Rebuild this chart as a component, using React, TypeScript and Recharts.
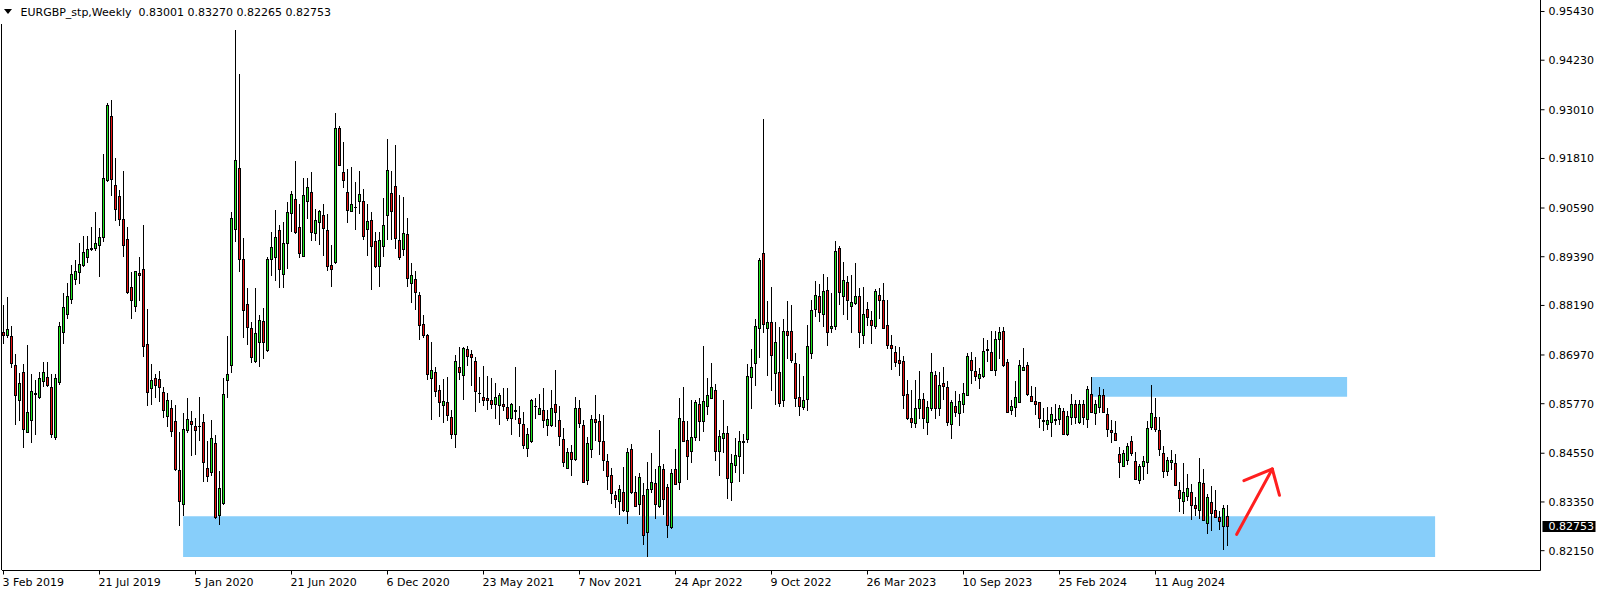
import { Bar, ComposedChart, ReferenceArea, ReferenceLine, XAxis, YAxis } from 'recharts';

// weekly EURGBP candles (first bar = week of 3 Feb 2019)
const opens = [
  0.8752, 0.8744, 0.8742, 0.867, 0.8585, 0.8655, 0.8507, 0.8536, 0.86, 0.8592,
  0.8632, 0.8642, 0.8618, 0.8493, 0.863, 0.8753, 0.8797, 0.8834, 0.8883, 0.8901,
  0.8918, 0.8938, 0.8956, 0.896, 0.8967, 0.8987, 0.9126, 0.9284, 0.9114, 0.9087,
  0.903, 0.8981, 0.8863, 0.8817, 0.8897, 0.8907, 0.8722, 0.8615, 0.864, 0.8636,
  0.8604, 0.8545, 0.8566, 0.8532, 0.8413, 0.8328, 0.851, 0.8532, 0.8521, 0.8521,
  0.853, 0.8418, 0.8408, 0.848, 0.8302, 0.833, 0.8634, 0.8671, 0.9007, 0.9156,
  0.8931, 0.8822, 0.8763, 0.8681, 0.8728, 0.8779, 0.8708, 0.8931, 0.8938, 0.9003,
  0.8894, 0.8972, 0.9046, 0.9079, 0.9011, 0.8939, 0.9074, 0.9097, 0.8995, 0.9023,
  0.904, 0.9003, 0.8917, 0.8924, 0.9254, 0.9146, 0.9097, 0.9051, 0.9061, 0.9076,
  0.9075, 0.9007, 0.9027, 0.8977, 0.8915, 0.8963, 0.904, 0.9095, 0.9112, 0.898,
  0.8956, 0.8993, 0.8873, 0.8884, 0.8844, 0.8771, 0.8746, 0.864, 0.8655, 0.861,
  0.8572, 0.8579, 0.8544, 0.8501, 0.8666, 0.8647, 0.871, 0.8697, 0.868, 0.8602,
  0.8593, 0.859, 0.8586, 0.8575, 0.8572, 0.8574, 0.8568, 0.854, 0.856, 0.8541,
  0.8527, 0.8466, 0.8485, 0.857, 0.8551, 0.8561, 0.8523, 0.8523, 0.8574, 0.8535,
  0.849, 0.8417, 0.8458, 0.8439, 0.8566, 0.8524, 0.8388, 0.8464, 0.8538, 0.8532,
  0.8483, 0.8435, 0.8401, 0.8351, 0.8336, 0.8359, 0.8311, 0.8464, 0.8359, 0.8328,
  0.8351, 0.8259, 0.8365, 0.8381, 0.8325, 0.8415, 0.8371, 0.8272, 0.8415, 0.8383,
  0.8534, 0.8487, 0.846, 0.8494, 0.8576, 0.8532, 0.857, 0.8591, 0.8609, 0.846,
  0.8491, 0.8504, 0.8383, 0.8425, 0.8447, 0.8481, 0.8489, 0.8642, 0.8677, 0.8761,
  0.8946, 0.8763, 0.8776, 0.8651, 0.8654, 0.8585, 0.8756, 0.8754, 0.8676, 0.8593,
  0.8568, 0.8587, 0.8701, 0.881, 0.884, 0.8797, 0.8857, 0.8761, 0.8766, 0.8959,
  0.8842, 0.8876, 0.8817, 0.8823, 0.8842, 0.8744, 0.8808, 0.8783, 0.8766, 0.8844,
  0.883, 0.877, 0.8721, 0.8704, 0.8683, 0.868, 0.86, 0.8541, 0.8528, 0.8566,
  0.8587, 0.8531, 0.8566, 0.8647, 0.8564, 0.8627, 0.8617, 0.8525, 0.857, 0.8553,
  0.8574, 0.8596, 0.8683, 0.8657, 0.864, 0.8644, 0.871, 0.8704, 0.866, 0.8736,
  0.8755, 0.8678, 0.8561, 0.8568, 0.8581, 0.8659, 0.8671, 0.8595, 0.8583, 0.8579,
  0.8536, 0.8527, 0.8531, 0.8537, 0.8538, 0.8559, 0.85, 0.8542, 0.8574, 0.8531,
  0.8576, 0.8538, 0.86, 0.8553, 0.8568, 0.8598, 0.8551, 0.8511, 0.8504, 0.8452,
  0.8423, 0.8438, 0.8485, 0.8434, 0.8387, 0.8422, 0.8432, 0.8519, 0.8544, 0.8511,
  0.8455, 0.8411, 0.8432, 0.843, 0.8364, 0.8337, 0.8348, 0.8358, 0.8327, 0.8315,
  0.8381, 0.8281, 0.8334, 0.8314, 0.8296, 0.8275, 0.83001,
];

const highs = [
  0.882, 0.8841, 0.8768, 0.87, 0.8653, 0.8676, 0.8722, 0.8649, 0.8636, 0.8655,
  0.868, 0.868, 0.8649, 0.8649, 0.8778, 0.885, 0.8875, 0.8918, 0.8932, 0.8973,
  0.8991, 0.8989, 0.9011, 0.905, 0.901, 0.9191, 0.9317, 0.9324, 0.9183, 0.9103,
  0.9149, 0.9013, 0.8902, 0.8905, 0.8938, 0.9018, 0.8811, 0.8676, 0.865, 0.8657,
  0.8619, 0.8603, 0.8585, 0.8574, 0.8507, 0.8555, 0.8591, 0.8558, 0.8542, 0.8593,
  0.8551, 0.8485, 0.8536, 0.8501, 0.8412, 0.864, 0.8744, 0.9048, 0.9498, 0.9388,
  0.8986, 0.8863, 0.8778, 0.8863, 0.8796, 0.8813, 0.8939, 0.8999, 0.9055, 0.9016,
  0.9024, 0.9074, 0.9101, 0.9176, 0.9068, 0.9133, 0.9133, 0.9147, 0.9057, 0.9055,
  0.9069, 0.9044, 0.8967, 0.9292, 0.9262, 0.9221, 0.9156, 0.916, 0.9122, 0.9149,
  0.9105, 0.9068, 0.9048, 0.9001, 0.9, 0.9084, 0.923, 0.915, 0.9215, 0.9092,
  0.9085, 0.9035, 0.8924, 0.8904, 0.8853, 0.8796, 0.8749, 0.8729, 0.8667, 0.8623,
  0.8638, 0.8644, 0.8562, 0.8697, 0.8717, 0.8717, 0.8718, 0.871, 0.8691, 0.8643,
  0.867, 0.8646, 0.864, 0.8629, 0.8604, 0.8615, 0.8616, 0.8579, 0.8667, 0.8572,
  0.8557, 0.8517, 0.8589, 0.8591, 0.8602, 0.8615, 0.8562, 0.861, 0.8659, 0.8572,
  0.8517, 0.8468, 0.8476, 0.8593, 0.8586, 0.8538, 0.8496, 0.8549, 0.8599, 0.8551,
  0.8549, 0.8453, 0.8419, 0.8361, 0.8377, 0.8421, 0.8468, 0.8477, 0.84, 0.8406,
  0.8381, 0.8433, 0.8456, 0.8416, 0.8513, 0.8428, 0.8379, 0.8415, 0.8466, 0.8592,
  0.8619, 0.8534, 0.8587, 0.8585, 0.8592, 0.872, 0.864, 0.8678, 0.8626, 0.8513,
  0.8585, 0.8523, 0.8453, 0.8493, 0.8511, 0.8502, 0.8676, 0.8711, 0.8785, 0.8936,
  0.9278, 0.8831, 0.8865, 0.8779, 0.8765, 0.8785, 0.8829, 0.8821, 0.8701, 0.8676,
  0.8646, 0.8772, 0.8833, 0.8878, 0.8872, 0.8897, 0.8888, 0.885, 0.8978, 0.8965,
  0.8926, 0.8891, 0.8895, 0.8924, 0.8863, 0.8865, 0.8827, 0.8806, 0.8859, 0.8863,
  0.8874, 0.8833, 0.8746, 0.8719, 0.8717, 0.8695, 0.8636, 0.861, 0.8636, 0.8657,
  0.8603, 0.8583, 0.8701, 0.8657, 0.8655, 0.8667, 0.8632, 0.8586, 0.8609, 0.86,
  0.8629, 0.8701, 0.8705, 0.8691, 0.8664, 0.874, 0.8734, 0.8755, 0.8755, 0.8765,
  0.8765, 0.8688, 0.8586, 0.8634, 0.8684, 0.8715, 0.868, 0.862, 0.8617, 0.8582,
  0.8566, 0.857, 0.8568, 0.8576, 0.8574, 0.8566, 0.8559, 0.86, 0.8586, 0.8586,
  0.8586, 0.862, 0.8643, 0.8586, 0.8617, 0.8613, 0.8566, 0.8538, 0.8535, 0.847,
  0.8463, 0.848, 0.8497, 0.8457, 0.8429, 0.8447, 0.8534, 0.8623, 0.8592, 0.8544,
  0.8474, 0.8445, 0.8462, 0.8453, 0.8385, 0.8432, 0.8404, 0.8379, 0.8348, 0.8444,
  0.8417, 0.8355, 0.8374, 0.8364, 0.8313, 0.8327, 0.8327,
];

const lows = [
  0.8723, 0.874, 0.8664, 0.8525, 0.8534, 0.8468, 0.8504, 0.8481, 0.8501, 0.8589,
  0.8617, 0.8619, 0.8493, 0.8487, 0.8623, 0.8723, 0.8786, 0.8822, 0.8869, 0.8871,
  0.8914, 0.8924, 0.8953, 0.8952, 0.8888, 0.8976, 0.9123, 0.9088, 0.9027, 0.9014,
  0.8938, 0.8848, 0.8785, 0.8802, 0.8831, 0.8693, 0.8572, 0.8575, 0.8592, 0.8582,
  0.8542, 0.8519, 0.8496, 0.8411, 0.8275, 0.83, 0.8504, 0.8449, 0.845, 0.8485,
  0.8385, 0.8385, 0.8398, 0.8293, 0.8279, 0.8328, 0.8592, 0.8653, 0.8976, 0.8902,
  0.8738, 0.8722, 0.8678, 0.8678, 0.8668, 0.8687, 0.8704, 0.8891, 0.8878, 0.8863,
  0.8861, 0.891, 0.8999, 0.8994, 0.8935, 0.8938, 0.9033, 0.8978, 0.8978, 0.8967,
  0.8942, 0.8905, 0.8864, 0.892, 0.9163, 0.9109, 0.9023, 0.9048, 0.9004, 0.9044,
  0.898, 0.8942, 0.8858, 0.8912, 0.8864, 0.8938, 0.898, 0.898, 0.8959, 0.8931,
  0.8942, 0.8864, 0.8825, 0.8808, 0.8735, 0.874, 0.8636, 0.8536, 0.8593, 0.8544,
  0.853, 0.8534, 0.849, 0.8467, 0.8636, 0.8587, 0.867, 0.862, 0.8557, 0.8579,
  0.8572, 0.8562, 0.8564, 0.854, 0.8525, 0.8559, 0.8534, 0.85, 0.8538, 0.8496,
  0.8466, 0.8446, 0.848, 0.854, 0.8548, 0.8517, 0.8498, 0.852, 0.852, 0.8472,
  0.8421, 0.8416, 0.84, 0.8436, 0.8517, 0.8381, 0.8378, 0.8443, 0.8485, 0.8451,
  0.8412, 0.8365, 0.8331, 0.8321, 0.8302, 0.831, 0.8281, 0.8355, 0.8323, 0.8303,
  0.8228, 0.82, 0.8358, 0.8294, 0.8319, 0.8304, 0.8247, 0.8268, 0.8377, 0.8365,
  0.8484, 0.8389, 0.843, 0.8485, 0.8484, 0.8508, 0.8548, 0.8589, 0.8436, 0.84,
  0.8455, 0.8343, 0.8338, 0.8406, 0.8385, 0.8405, 0.8481, 0.8564, 0.8621, 0.8689,
  0.8751, 0.8646, 0.8608, 0.8575, 0.857, 0.857, 0.8687, 0.8677, 0.857, 0.8547,
  0.8561, 0.8558, 0.8688, 0.8791, 0.8779, 0.8766, 0.8719, 0.8751, 0.8759, 0.882,
  0.8796, 0.8782, 0.8752, 0.8819, 0.8715, 0.8725, 0.8768, 0.8725, 0.8761, 0.8786,
  0.8762, 0.8711, 0.8659, 0.8667, 0.8646, 0.8565, 0.8536, 0.8518, 0.8517, 0.854,
  0.8515, 0.8501, 0.8558, 0.854, 0.8547, 0.8587, 0.8521, 0.8489, 0.8545, 0.8521,
  0.8555, 0.8595, 0.8626, 0.8633, 0.8612, 0.864, 0.868, 0.8659, 0.8646, 0.8687,
  0.8668, 0.8553, 0.8549, 0.8545, 0.8579, 0.8657, 0.8596, 0.8581, 0.8549, 0.8517,
  0.8511, 0.8513, 0.8496, 0.8525, 0.8525, 0.85, 0.8498, 0.8525, 0.8528, 0.8528,
  0.8525, 0.8517, 0.8553, 0.8524, 0.8553, 0.8553, 0.8496, 0.848, 0.8485, 0.8394,
  0.8421, 0.8426, 0.8449, 0.8389, 0.8379, 0.8388, 0.8404, 0.8513, 0.8508, 0.8449,
  0.8395, 0.84, 0.8413, 0.8375, 0.8311, 0.8306, 0.8338, 0.829, 0.83, 0.8293,
  0.8287, 0.8255, 0.8263, 0.8296, 0.8266, 0.8217, 0.82265,
];

const closes = [
  0.8745, 0.8759, 0.8677, 0.8598, 0.8627, 0.8513, 0.8555, 0.8606, 0.8603, 0.864,
  0.8653, 0.8621, 0.8501, 0.8638, 0.8766, 0.8813, 0.8841, 0.8895, 0.8902, 0.892,
  0.895, 0.8958, 0.896, 0.8971, 0.8986, 0.9131, 0.9312, 0.9128, 0.9056, 0.9031,
  0.8966, 0.8851, 0.8831, 0.8902, 0.8893, 0.8718, 0.8604, 0.8633, 0.8623, 0.8618,
  0.8561, 0.8584, 0.8508, 0.8414, 0.8336, 0.8514, 0.8538, 0.8525, 0.8511, 0.852,
  0.8432, 0.8398, 0.8491, 0.8296, 0.8368, 0.86, 0.865, 0.9034, 0.9176, 0.8933,
  0.8807, 0.8765, 0.8691, 0.8749, 0.8783, 0.8728, 0.8933, 0.8961, 0.8986, 0.8908,
  0.8972, 0.9048, 0.9092, 0.8999, 0.8948, 0.9089, 0.9109, 0.8999, 0.9027, 0.905,
  0.9009, 0.8915, 0.8908, 0.9254, 0.9164, 0.9126, 0.9054, 0.9068, 0.906, 0.9092,
  0.899, 0.9025, 0.8963, 0.8915, 0.898, 0.9017, 0.9152, 0.9051, 0.8983, 0.8936,
  0.8995, 0.8885, 0.8892, 0.8851, 0.8769, 0.8745, 0.8649, 0.866, 0.8608, 0.8581,
  0.8583, 0.8548, 0.8501, 0.8682, 0.8654, 0.8714, 0.8693, 0.8691, 0.8608, 0.8601,
  0.8585, 0.8585, 0.8575, 0.8593, 0.8596, 0.8569, 0.854, 0.8574, 0.8559, 0.8528,
  0.8474, 0.85, 0.8586, 0.8569, 0.8565, 0.8536, 0.8538, 0.8566, 0.8555, 0.8496,
  0.8432, 0.8456, 0.8439, 0.8566, 0.8528, 0.8382, 0.848, 0.8538, 0.8531, 0.8484,
  0.8436, 0.8398, 0.8355, 0.834, 0.8366, 0.8313, 0.8457, 0.8359, 0.8324, 0.8396,
  0.8252, 0.8366, 0.8383, 0.8328, 0.8422, 0.8341, 0.8277, 0.8405, 0.8378, 0.8541,
  0.8485, 0.8446, 0.8494, 0.8581, 0.8534, 0.8583, 0.8596, 0.8616, 0.846, 0.8497,
  0.8504, 0.8392, 0.843, 0.845, 0.8485, 0.8484, 0.8644, 0.8667, 0.8766, 0.8929,
  0.8772, 0.8776, 0.8695, 0.8727, 0.8578, 0.8754, 0.8745, 0.8684, 0.8589, 0.857,
  0.8586, 0.8719, 0.8807, 0.8844, 0.8802, 0.8853, 0.8753, 0.8766, 0.8953, 0.8851,
  0.888, 0.883, 0.8827, 0.884, 0.8752, 0.8796, 0.8789, 0.8769, 0.8854, 0.883,
  0.8763, 0.8721, 0.8714, 0.8678, 0.8676, 0.8598, 0.854, 0.8531, 0.8565, 0.8587,
  0.854, 0.8568, 0.8655, 0.8564, 0.8623, 0.8619, 0.8531, 0.8579, 0.8555, 0.8583,
  0.8603, 0.8693, 0.8659, 0.8644, 0.865, 0.8706, 0.8708, 0.866, 0.8736, 0.8753,
  0.8671, 0.8555, 0.857, 0.8592, 0.867, 0.8667, 0.8599, 0.8583, 0.8575, 0.854,
  0.8534, 0.8536, 0.8551, 0.8536, 0.8564, 0.8502, 0.8545, 0.8576, 0.8542, 0.8574,
  0.8542, 0.8613, 0.8555, 0.8576, 0.8598, 0.8555, 0.8513, 0.8506, 0.8487, 0.8432,
  0.8455, 0.8472, 0.8455, 0.8391, 0.8423, 0.8434, 0.8517, 0.8553, 0.8514, 0.8463,
  0.8411, 0.8438, 0.8438, 0.8375, 0.8344, 0.8358, 0.8368, 0.8326, 0.832, 0.8383,
  0.829, 0.8347, 0.8306, 0.8297, 0.8287, 0.8319, 0.82753,
];

const priceTicks = [
  0.9543, 0.9423, 0.9301, 0.9181, 0.9059, 0.8939, 0.8819, 0.8697, 0.8577, 0.8455, 0.8335, 0.8215,
];
const dateTickBars = [0, 24, 48, 72, 96, 120, 144, 168, 192, 216, 240, 264, 288];
const dateTickLabels = [
  '3 Feb 2019', '21 Jul 2019', '5 Jan 2020', '21 Jun 2020', '6 Dec 2020', '23 May 2021',
  '7 Nov 2021', '24 Apr 2022', '9 Oct 2022', '26 Mar 2023', '10 Sep 2023', '25 Feb 2024', '11 Aug 2024',
];

// drawn zones and arrow (bar index / price)
const demandZone = { x1: 44.9, x2: 357.9, y1: 0.81997, y2: 0.82997 };
const supplyZone = { x1: 272.1, x2: 335.9, y1: 0.85942, y2: 0.86428 };
const arrowSegments = [
  [{ x: 308.3, y: 0.82553 }, { x: 317.2, y: 0.84162 }],
  [{ x: 310.1, y: 0.83873 }, { x: 317.2, y: 0.84162 }],
  [{ x: 317.2, y: 0.84162 }, { x: 319.0, y: 0.83514 }],
];

const W = 1604;
const H = 594;
const FONT = '"DejaVu Sans", Verdana, sans-serif';
const UP = '#1ee61e';
const DOWN = '#e81212';

const rows = opens.map((open, i) => ({
  i,
  open,
  high: highs[i],
  low: lows[i],
  close: closes[i],
}));
const lastClose = closes[closes.length - 1];

function Candle(props: any) {
  const { x, y, width, height, payload } = props;
  if (x == null || y == null) return null;
  const { open, close, high, low } = payload;
  const cx = Math.floor(x + width / 2) + 0.5;
  const top = Math.min(y, y + height);
  const bot = Math.max(y, y + height);
  const span = high - low;
  const py = (p: number) => (span === 0 ? top : top + ((high - p) / span) * (bot - top));
  const b1 = Math.round(Math.min(py(open), py(close)) - 0.5) + 0.5;
  const b2 = Math.round(Math.max(py(open), py(close)) - 0.5) + 0.5;
  return (
    <g>
      <line x1={cx} x2={cx} y1={Math.round(top)} y2={Math.round(bot)} stroke="#000" strokeWidth={1} />
      {b2 - b1 < 1 ? (
        <line x1={cx - 1.5} x2={cx + 1.5} y1={b1} y2={b1} stroke="#000" strokeWidth={1} />
      ) : (
        <rect
          x={cx - 1}
          y={b1}
          width={2}
          height={b2 - b1}
          fill={close >= open ? UP : DOWN}
          stroke="#000"
          strokeWidth={1}
        />
      )}
    </g>
  );
}

function DateTick(props: any) {
  const { x, y, payload } = props;
  const label = dateTickLabels[dateTickBars.indexOf(payload.value)];
  return (
    <text x={x - 1} y={y + 9} textAnchor="start" fontSize={11} fontFamily={FONT} fill="#000">
      {label}
    </text>
  );
}

function PriceTag(props: any) {
  const vb = props.viewBox || {};
  const yy = Math.round(vb.y);
  const x0 = vb.x + vb.width + 2;
  return (
    <g>
      <rect x={x0} y={yy - 5} width={53} height={11} fill="#000" />
      <text x={x0 + 6} y={yy + 4} fontSize={11} fontFamily={FONT} fill="#fff">
        {lastClose.toFixed(5)}
      </text>
    </g>
  );
}

export default function App() {
  return (
    <div style={{ position: 'absolute', left: 0, top: 0, width: W, height: H, background: '#fff' }}>
      <ComposedChart width={W} height={H} data={rows} margin={{ top: 0, right: 3.5, bottom: 0, left: 2 }}>
        <XAxis
          dataKey="i"
          type="number"
          domain={[-0.375, 384.25]}
          allowDataOverflow
          ticks={dateTickBars}
          interval={0}
          height={23.5}
          axisLine={{ stroke: '#000' }}
          tickLine={{ stroke: '#000' }}
          tickSize={4}
          tick={<DateTick />}
        />
        <YAxis
          orientation="right"
          type="number"
          domain={[0.81662, 0.95713]}
          allowDataOverflow
          ticks={priceTicks}
          interval={0}
          width={60}
          axisLine={{ stroke: '#000' }}
          tickLine={{ stroke: '#000' }}
          tickSize={4}
          tickMargin={4}
          tickFormatter={(v: number) => v.toFixed(5)}
          tick={{ fill: '#000', fontSize: 11, fontFamily: FONT }}
        />
        <ReferenceArea {...demandZone} fill="#87cefa" fillOpacity={1} stroke="none" />
        <ReferenceArea {...supplyZone} fill="#87cefa" fillOpacity={1} stroke="none" />
        <Bar
          dataKey={(d: any) => [d.low, d.high]}
          shape={<Candle />}
          barSize={3}
          isAnimationActive={false}
        />
        {arrowSegments.map((seg, k) => (
          <ReferenceLine key={k} segment={seg} stroke="#ff1f1f" strokeWidth={3} strokeLinecap="round" />
        ))}
        <ReferenceLine y={lastClose} stroke="none" label={<PriceTag />} />
      </ComposedChart>
      <svg
        width={W}
        height={H}
        style={{ position: 'absolute', left: 0, top: 0, pointerEvents: 'none' }}
      >
        <line x1={1.5} x2={1.5} y1={24} y2={570} stroke="#000" strokeWidth={1} />
        <polygon points="4,9 12,9 8,14" fill="#000" />
        <text x={20.5} y={16} fontSize={11} fontFamily={FONT} fill="#000" style={{ whiteSpace: 'pre' }}>
          {'EURGBP_stp,Weekly  0.83001 0.83270 0.82265 0.82753'}
        </text>
      </svg>
    </div>
  );
}
